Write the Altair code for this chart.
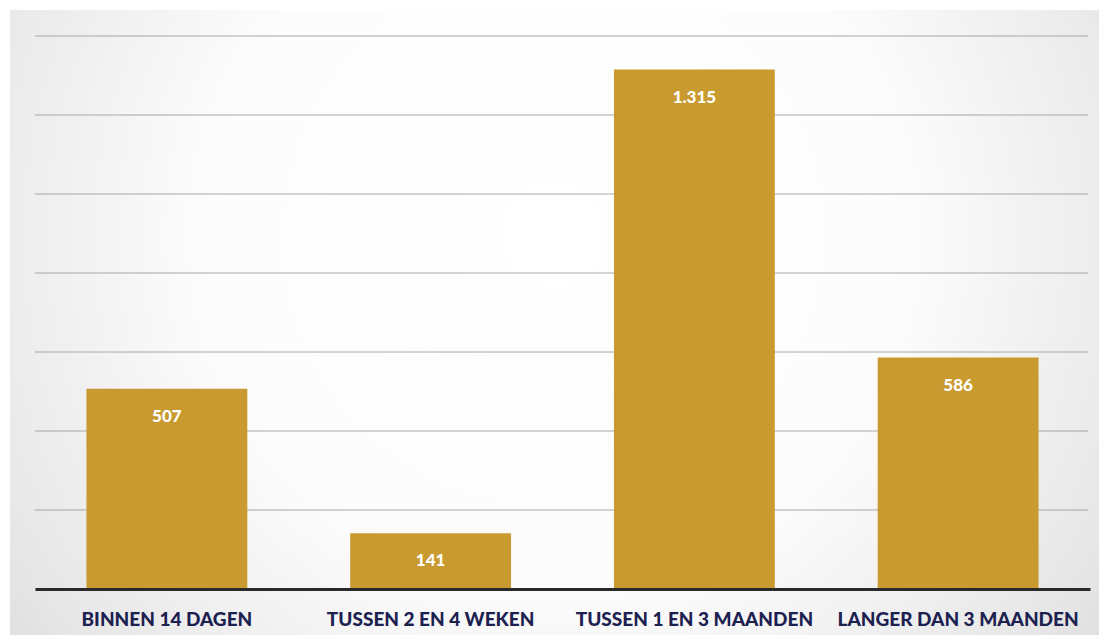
import altair as alt
import pandas as pd

categories = ["BINNEN 14 DAGEN", "TUSSEN 2 EN 4 WEKEN", "TUSSEN 1 EN 3 MAANDEN", "LANGER DAN 3 MAANDEN"]
values = [507, 141, 1315, 586]
value_labels = ["507", "141", "1.315", "586"]
grid_values = [200, 400, 600, 800, 1000, 1200, 1400]

df = pd.DataFrame({"cat": categories, "val": values, "lab": value_labels})
gdf = pd.DataFrame({"g": grid_values})

W, H = 1055, 553
PL, PT, PR, PB = 27, 28, 9, 46

y_scale = alt.Scale(domain=[0, 1400], nice=False)

x_enc = alt.X("cat:N", sort=categories, title=None,
              scale=alt.Scale(paddingInner=0.39, paddingOuter=0.195),
              axis=alt.Axis(labelAngle=0, ticks=False, domain=True, domainColor="#2a2a2a",
                            domainWidth=3, labelFont="Lato", labelFontWeight=900,
                            labelFontSize=19, labelColor="#1c2150", labelPadding=21,
                            labelLimit=0, grid=False, zindex=1))
y_enc = alt.Y("val:Q", title=None, scale=y_scale, axis=None)

bg = alt.Chart(df).mark_rect(
    color=alt.Gradient(gradient="radial", x1=0.5, y1=0.42, r1=0.0, x2=0.5, y2=0.42, r2=0.72,
                       stops=[alt.GradientStop(offset=0, color="#ffffff"),
                              alt.GradientStop(offset=0.45, color="#fcfcfc"),
                              alt.GradientStop(offset=0.8, color="#e6e6e6"),
                              alt.GradientStop(offset=1, color="#d2d2d2")])
).encode(x=alt.value(-25), x2=alt.value(W + PR), y=alt.value(-26), y2=alt.value(H + PB))

grid = alt.Chart(gdf).mark_rule(color="#999999", strokeWidth=1, opacity=0.85).encode(
    y=alt.Y("g:Q", scale=y_scale, axis=None), x=alt.value(0), x2=alt.value(W - 2))

bars = alt.Chart(df).mark_bar(color="#C99A2F").encode(x=x_enc, y=y_enc)

text = alt.Chart(df).mark_text(color="white", font="Lato", fontWeight=900, fontSize=17,
                               baseline="middle", dy=28).encode(
    x=alt.X("cat:N", sort=categories), y=alt.Y("val:Q", scale=y_scale), text="lab:N")

chart = alt.layer(bg, grid, bars, text).properties(
    width=W, height=H,
    autosize=alt.AutoSizeParams(type="none"),
    padding={"left": PL, "top": PT, "right": PR, "bottom": PB},
    background="#ffffff",
).configure_view(stroke=None)

chart.save("out.html", embed_options={"renderer": "svg", "actions": False})
